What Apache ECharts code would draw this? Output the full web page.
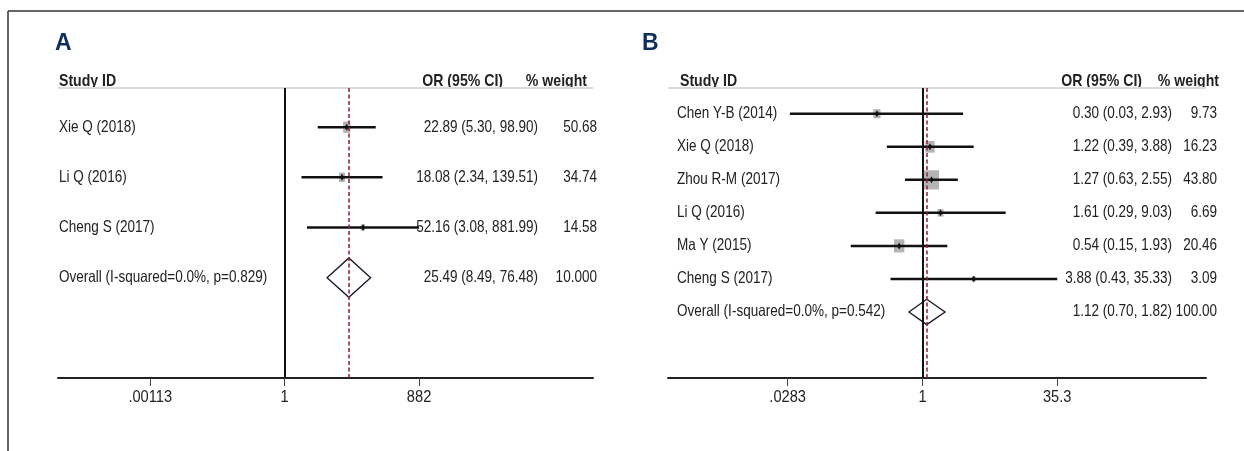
<!DOCTYPE html>
<html>
<head>
<meta charset="utf-8">
<script src="https://cdn.jsdelivr.net/npm/echarts@6/dist/echarts.min.js"></script>
<style>
  html, body { margin: 0; padding: 0; background: #fff; }
  #chart { width: 1244px; height: 451px; }
</style>
</head>
<body>
<div id="chart"></div>
<script>
// ---- Panel A: OR with 95% CI ----
const studiesA = ['Xie Q (2018)', 'Li Q (2016)', 'Cheng S (2017)'];
const orA = [22.89, 18.08, 52.16];
const lowA = [5.30, 2.34, 3.08];
const highA = [98.90, 139.51, 881.99];
const weightA = [50.68, 34.74, 14.58];
const overallLabelA = 'Overall (I-squared=0.0%, p=0.829)';
const overallA = [25.49, 8.49, 76.48];
const overallWeightA = '10.000';
const tickValuesA = [0.00113, 1, 882];
const tickLabelsA = ['.00113', '1', '882'];

// ---- Panel B: OR with 95% CI ----
const studiesB = ['Chen Y-B (2014)', 'Xie Q (2018)', 'Zhou R-M (2017)', 'Li Q (2016)', 'Ma Y (2015)', 'Cheng S (2017)'];
const orB = [0.30, 1.22, 1.27, 1.61, 0.54, 3.88];
const lowB = [0.03, 0.39, 0.63, 0.29, 0.15, 0.43];
const highB = [2.93, 3.88, 2.55, 9.03, 1.93, 35.33];
const weightB = [9.73, 16.23, 43.80, 6.69, 20.46, 3.09];
const overallLabelB = 'Overall (I-squared=0.0%, p=0.542)';
const overallB = [1.12, 0.70, 1.82];
const overallWeightB = '100.00';
const tickValuesB = [0.0283, 1, 35.3];
const tickLabelsB = ['.0283', '1', '35.3'];

const headerStudy = 'Study ID';
const headerOR = 'OR (95% CI)';
const headerWeight = '% weight';

// condensed look: regular sans squeezed horizontally
const SANS = "'Liberation Sans', Arial, sans-serif";
const TEXT = '#222';

const panels = [
  {
    letter: 'A', names: studiesA, or: orA, low: lowA, high: highA, weight: weightA,
    overallLabel: overallLabelA, overall: overallA, overallWeight: overallWeightA,
    ticks: tickValuesA, tickLabels: tickLabelsA,
    grid: { left: 58, top: 88, width: 535, height: 290 },
    xMinLn: -11.44, xMaxLn: 15.56, yMax: 5,
    boxKw: 1.0, boxKh: 1.6, diamondHalf: 19.7,
    letterX: 55, labelX: 59, headX: 59, orRight: 503, wHeadRight: 587, ciRight: 538, wRight: 597
  },
  {
    letter: 'B', names: studiesB, or: orB, low: lowB, high: highB, weight: weightB,
    overallLabel: overallLabelB, overall: overallB, overallWeight: overallWeightB,
    ticks: tickValuesB, tickLabels: tickLabelsB,
    grid: { left: 668, top: 88, width: 538, height: 290 },
    xMinLn: -6.73, xMaxLn: 7.50, yMax: 8,
    boxKw: 2.3, boxKh: 2.9, diamondHalf: 12.7,
    letterX: 642, labelX: 677, headX: 680, orRight: 1142, wHeadRight: 1219, ciRight: 1172, wRight: 1217
  }
];

function ciText(o, l, h) {
  return o.toFixed(2) + ' (' + l.toFixed(2) + ', ' + h.toFixed(2) + ')';
}

// text element anchored at (x, y), narrowed around its anchor
function txt(x, y, text, align, size, sx, bold) {
  return {
    type: 'text', x: x, y: y, scaleX: sx,
    style: {
      text: text, fill: TEXT, fontSize: size, fontFamily: SANS,
      fontWeight: bold ? 'bold' : 'normal', align: align, verticalAlign: 'middle'
    }
  };
}

function rowText(x, y, text, align) {
  return txt(x, y, text, align, 16.5, 0.82, false);
}

function studyRenderer(p) {
  return function (params, api) {
    const i = params.dataIndex;
    const row = api.value(0);
    const c = api.coord([api.value(1), row]);
    const l = api.coord([api.value(2), row]);
    const h = api.coord([api.value(3), row]);
    const w = api.value(4);
    const bw = p.boxKw * Math.sqrt(w), bh = p.boxKh * Math.sqrt(w);
    return {
      type: 'group',
      children: [
        { type: 'rect', shape: { x: c[0] - bw / 2, y: c[1] - bh / 2, width: bw, height: bh },
          style: { fill: '#b4b4b4' } },
        { type: 'line', shape: { x1: l[0], y1: l[1], x2: h[0], y2: h[1] },
          style: { stroke: '#111', lineWidth: 2.5 } },
        { type: 'polygon', shape: { points: [[c[0], c[1] - 3.5], [c[0] + 2, c[1]], [c[0], c[1] + 3.5], [c[0] - 2, c[1]]] },
          style: { fill: '#111' } },
        rowText(p.labelX, c[1], p.names[i], 'left'),
        rowText(p.ciRight, c[1], ciText(p.or[i], p.low[i], p.high[i]), 'right'),
        rowText(p.wRight, c[1], w.toFixed(2), 'right')
      ]
    };
  };
}

function overallRenderer(p) {
  return function (params, api) {
    const row = api.value(0);
    const c = api.coord([api.value(1), row]);
    const l = api.coord([api.value(2), row]);
    const h = api.coord([api.value(3), row]);
    const d = p.diamondHalf;
    return {
      type: 'group',
      children: [
        { type: 'polygon', shape: { points: [[l[0], l[1]], [c[0], c[1] - d], [h[0], h[1]], [c[0], c[1] + d]] },
          style: { fill: 'none', stroke: '#15152a', lineWidth: 1.3 } },
        rowText(p.labelX, c[1], p.overallLabel, 'left'),
        rowText(p.ciRight, c[1], ciText(p.overall[0], p.overall[1], p.overall[2]), 'right'),
        rowText(p.wRight, c[1], p.overallWeight, 'right')
      ]
    };
  };
}

// tick labels placed under the axis at each tick value
function tickRenderer(p) {
  return function (params, api) {
    const c = api.coord([api.value(0), api.value(1)]);
    return txt(c[0], c[1] + 19, p.tickLabels[params.dataIndex], 'center', 17, 0.86, false);
  };
}

const grids = [], xAxes = [], yAxes = [], series = [], graphics = [];

panels.forEach(function (p, k) {
  grids.push(Object.assign({ containLabel: false }, p.grid));
  xAxes.push({
    type: 'log', logBase: Math.E, gridIndex: k,
    min: Math.exp(p.xMinLn), max: Math.exp(p.xMaxLn),
    axisLine: { show: true, onZero: false, lineStyle: { color: '#222', width: 2 } },
    axisTick: { show: true, length: 8, customValues: p.ticks, lineStyle: { color: '#444', width: 1 } },
    axisLabel: { show: false },
    splitLine: { show: false }
  });
  yAxes.push({ type: 'value', gridIndex: k, inverse: true, min: -0.78, max: p.yMax, show: false });

  series.push({
    type: 'custom', xAxisIndex: k, yAxisIndex: k, clip: false, silent: true, animation: false,
    renderItem: studyRenderer(p),
    encode: { x: [1, 2, 3], y: 0 },
    data: p.names.map(function (_, i) { return [i, p.or[i], p.low[i], p.high[i], p.weight[i]]; })
  });
  series.push({
    type: 'custom', xAxisIndex: k, yAxisIndex: k, clip: false, silent: true, animation: false,
    renderItem: overallRenderer(p),
    encode: { x: [1, 2, 3], y: 0 },
    data: [[p.names.length, p.overall[0], p.overall[1], p.overall[2]]],
    markLine: {
      silent: true, animation: false, symbol: ['none', 'none'], label: { show: false },
      data: [
        { xAxis: 1, lineStyle: { color: '#111', width: 2, type: 'solid' } },
        { xAxis: p.overall[0], lineStyle: { color: '#8c1f2e', width: 1.5, type: [4, 2.5] } }
      ]
    }
  });
  series.push({
    type: 'custom', xAxisIndex: k, yAxisIndex: k, clip: false, silent: true, animation: false,
    renderItem: tickRenderer(p),
    encode: { x: 0, y: 1 },
    data: p.ticks.map(function (t) { return [t, p.yMax]; })
  });

  // header row
  graphics.push(
    { type: 'text', x: p.letterX, y: 44, style: { text: p.letter, fill: '#0d2f5e', fontSize: 23, fontWeight: 'bold', fontFamily: SANS, verticalAlign: 'middle' } },
    txt(p.headX, 81, headerStudy, 'left', 17, 0.83, true),
    txt(p.orRight, 81, headerOR, 'right', 17, 0.83, true),
    txt(p.wHeadRight, 81, headerWeight, 'right', 17, 0.83, true),
    { type: 'line', shape: { x1: p.grid.left, y1: p.grid.top, x2: p.grid.left + p.grid.width, y2: p.grid.top }, style: { stroke: '#dadada', lineWidth: 2 } }
  );
});

// outer frame (top and left edges)
graphics.push(
  { type: 'line', shape: { x1: 8, y1: 11, x2: 1244, y2: 11 }, style: { stroke: '#333', lineWidth: 1.5 } },
  { type: 'line', shape: { x1: 8, y1: 11, x2: 8, y2: 451 }, style: { stroke: '#333', lineWidth: 1.5 } }
);

const chart = echarts.init(document.getElementById('chart'), null, { renderer: 'canvas' });
chart.setOption({
  animation: false,
  backgroundColor: '#fff',
  grid: grids,
  xAxis: xAxes,
  yAxis: yAxes,
  series: series,
  graphic: graphics
});
</script>
</body>
</html>
